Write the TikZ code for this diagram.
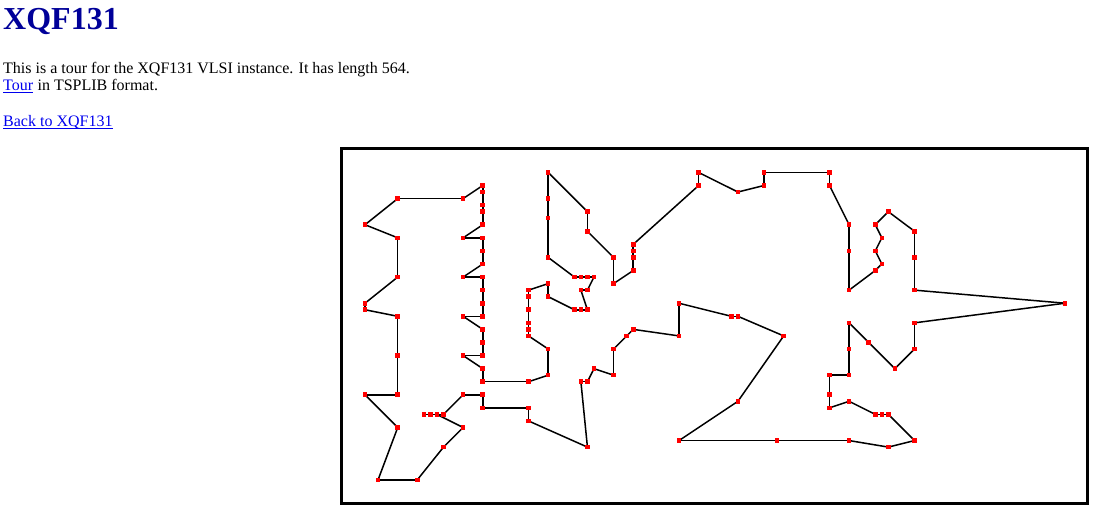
\documentclass[tikz,border=0pt]{standalone}
\usepackage{fontspec}
\setmainfont{Liberation Serif}
\definecolor{titleblue}{RGB}{0,0,153}
\definecolor{linkblue}{RGB}{0,0,238}
\tikzset{
  citydot/.style={rectangle, fill=red, draw=none, minimum size=4.6pt, inner sep=0pt},
  leg/.style={black, line width=1.5pt},
  page/.style={anchor=base west, inner sep=0pt, font=\fontsize{16}{18}\selectfont},
}
\begin{document}
\begin{tikzpicture}[x=1pt,y=1pt]
\useasboundingbox (0,0) rectangle (1108,520);
\node[anchor=base west, inner sep=0pt, text=titleblue, font=\fontsize{32}{36}\selectfont\bfseries] (title) at (3,490) {XQF131};
\node[page] (intro) at (3,446) {This is a tour for the XQF131 VLSI instance. It has length 564.};
\node[page, text=linkblue] (tourlink) at (3,429) {Tour};
\node[page] (format) at (tourlink.base east) {\ in TSPLIB format.};
\node[page, text=linkblue] (backlink) at (3,393) {Back to XQF131};
\foreach \n in {tourlink,backlink}
  \draw[linkblue, line width=1pt] ([yshift=-1.8pt]\n.base west) -- ([yshift=-1.8pt]\n.base east);
\draw[line width=3pt] (341.5,16.5) rectangle (1087.5,371.5);
\begin{scope}[shift={(365,40.2)}, x=6.542pt, y=6.54pt]
  \foreach \x/\y [count=\i] in {0/39,5/37,5/31,0/27,0/26,5/25,5/19,5/13,0/13,5/8,
      2/0,8/0,12/5,15/8,11/10,10/10,9/10,12/10,15/13,18/13,
      18/11,25/11,25/9,34/5,33/15,34/15,35/17,38/16,38/20,40/22,
      41/23,48/22,48/27,56/25,57/25,64/22,57/12,48/6,63/6,74/6,
      80/5,84/6,80/10,79/10,78/10,74/12,71/11,71/13,71/16,74/16,
      74/20,74/24,77/21,81/17,84/20,84/24,107/27,84/29,84/34,84/38,
      80/41,78/39,79/37,78/35,79/33,78/32,74/29,74/35,74/39,71/45,
      71/47,61/47,61/45,57/44,51/47,51/45,41/36,41/35,41/34,41/32,
      38/30,38/34,34/38,34/41,28/47,28/43,28/40,28/34,32/31,33/31,
      34/31,35/31,34/29,33/29,34/26,33/26,32/26,28/28,28/30,25/29,
      25/28,25/26,25/24,25/23,25/22,28/20,28/16,25/15,18/15,18/17,
      15/19,18/19,18/21,18/23,15/25,18/25,18/27,18/29,18/31,15/31,
      18/33,18/35,18/37,15/37,18/39,18/41,18/42,18/44,18/45,15/43,
      5/43}
    \coordinate (c\i) at (\x,\y);
  \foreach \i [evaluate=\i as \j using {int(mod(\i,131)+1)}] in {1,...,131}
    \draw[leg] (c\i) -- (c\j);
  \foreach \i in {1,...,131} \node[citydot] (v\i) at (c\i) {};
\end{scope}
\end{tikzpicture}
\end{document}
